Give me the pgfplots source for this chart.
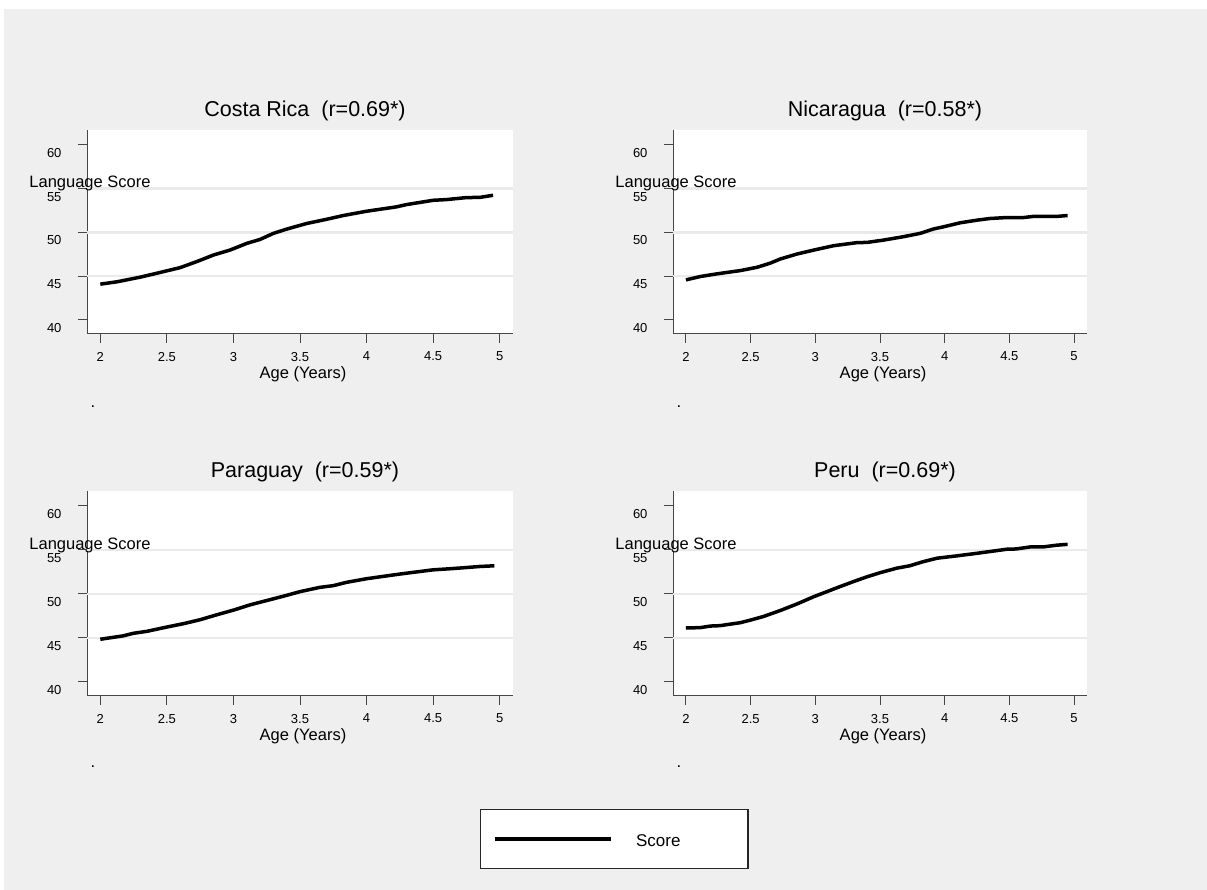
\documentclass[border=0pt]{standalone}
\usepackage{fontspec}
\setmainfont{Liberation Sans}
\usepackage{pgfplots}
\pgfplotsset{compat=1.18}
\definecolor{bggray}{RGB}{239,239,239}
\definecolor{axisgray}{RGB}{70,70,70}
\definecolor{gridgray}{RGB}{234,234,234}
\pgfplotsset{
 panel/.style={
  scale only axis, anchor=south west,
  xmin=1.9, xmax=5.1, ymin=38.4, ymax=61.7,
  axis x line*=bottom, axis y line*=left,
  axis line style={axisgray, line width=1pt, -},
  axis background/.style={fill=white},
  xtick={2,2.5,3,3.5,4,4.5,5},
  ytick={40,45,50,55,60},
  tick align=outside, major tick length=9pt,
  tick style={axisgray, line width=1pt},
  extra y ticks={45,50,55}, extra y tick labels={},
  extra y tick style={ymajorgrids=true, major tick length=0pt},
  grid style={gridgray, line width=2.5pt},
  /pgf/number format/assume math mode=true,
  xticklabel style={font=\fontsize{13}{15}\selectfont, yshift=-5.5pt},
  yticklabel style={font=\fontsize{13}{15}\selectfont, xshift=-13pt, yshift=-8pt},
  title style={at={(0.5,1)}, anchor=base, yshift=7.3pt, xshift=5pt, font=\fontsize{21.5}{24}\selectfont},
  xlabel={Age (Years)},
  every axis x label/.style={at={(axis description cs:0.5,0)}, anchor=base, yshift=-45pt, xshift=3pt, font=\fontsize{16.5}{18}\selectfont},
  ylabel={Language Score},
  every axis y label/.style={at={(axis description cs:0,0.716)}, anchor=base, xshift=3pt, font=\fontsize{16.5}{18}\selectfont},
 },
 curve/.style={black, line width=3.5pt, line join=round, no markers},
}
\begin{document}
\begin{tikzpicture}
\useasboundingbox (0,0) rectangle (1207pt,890pt);
\fill[white] (0,0) rectangle (1207pt,890pt);
\fill[bggray] (4pt,0) rectangle (1207pt,881pt);

\begin{axis}[panel, at={(87pt,556pt)}, width=426pt, height=204pt, title={Costa Rica\ \ (r=0.69*)}]
\addplot[curve] coordinates {
(2.0,44.09) (2.125,44.36) (2.3,44.89) (2.425,45.34) (2.6,45.98) (2.725,46.67)
(2.85,47.42) (2.975,47.99) (3.1,48.75) (3.2,49.2) (3.3,49.89) (3.4,50.38)
(3.55,51.02) (3.7,51.5) (3.825,51.93) (4.0,52.42) (4.225,52.92) (4.3,53.18)
(4.5,53.67) (4.6,53.75) (4.75,53.98) (4.85,54.0) (4.95,54.24)};
\end{axis}

\begin{axis}[panel, at={(673pt,556pt)}, width=414pt, height=204pt, title={Nicaragua\ \ (r=0.58*)}]
\addplot[curve] coordinates {
(2.0,44.58) (2.11,44.96) (2.24,45.27) (2.42,45.64) (2.55,46.02) (2.65,46.48)
(2.73,46.97) (2.86,47.54) (2.99,47.99) (3.14,48.48) (3.32,48.83) (3.40,48.86)
(3.53,49.13) (3.68,49.51) (3.81,49.89) (3.91,50.38) (3.99,50.64) (4.12,51.10)
(4.25,51.40) (4.35,51.59) (4.48,51.70) (4.61,51.70) (4.68,51.82) (4.86,51.82)
(4.95,51.93)};
\end{axis}

\begin{axis}[panel, at={(87pt,194pt)}, width=426pt, height=205pt, title={Paraguay\ \ (r=0.59*)},
  legend style={at={(axis description cs:0.9225,-0.5512)}, anchor=north west,
    draw=black!85, line width=1.3pt, fill=white, inner xsep=13pt, inner ysep=0pt,
    nodes={inner sep=0pt, text height=37pt, text depth=22pt}, column sep=23pt,
    font=\fontsize{17}{20}\selectfont},
  legend image code/.code={\draw[#1] (0pt,0pt) -- (116pt,0pt);}]
\addplot[curve] coordinates {
(2.0,44.85) (2.17,45.23) (2.25,45.53) (2.35,45.75) (2.5,46.24) (2.625,46.62)
(2.75,47.07) (2.875,47.63) (3.0,48.16) (3.125,48.76) (3.25,49.25) (3.375,49.74)
(3.5,50.26) (3.65,50.75) (3.75,50.94) (3.85,51.32) (4.0,51.73) (4.25,52.26)
(4.5,52.74) (4.625,52.86) (4.75,53.0) (4.85,53.12) (4.96,53.2)};
\addlegendentry{\makebox[99pt][l]{Score}}
\end{axis}

\begin{axis}[panel, at={(673pt,194pt)}, width=414pt, height=205pt, title={Peru\ \ (r=0.69*)}]
\addplot[curve] coordinates {
(2.0,46.13) (2.11,46.17) (2.19,46.35) (2.26,46.39) (2.42,46.73) (2.50,47.03)
(2.60,47.44) (2.73,48.12) (2.86,48.87) (2.99,49.70) (3.09,50.26) (3.19,50.83)
(3.30,51.43) (3.40,51.95) (3.50,52.41) (3.63,52.93) (3.73,53.20) (3.83,53.65)
(3.94,54.06) (4.09,54.32) (4.25,54.62) (4.48,55.08) (4.55,55.11) (4.66,55.34)
(4.76,55.34) (4.86,55.53) (4.95,55.64)};
\end{axis}

\foreach \px/\py in {93/482.5, 679/482.5, 93/122, 679/122}
  \node[inner sep=0pt, anchor=base, font=\fontsize{16.5}{18}\selectfont] at (\px pt,\py pt) {.};
\end{tikzpicture}
\end{document}
